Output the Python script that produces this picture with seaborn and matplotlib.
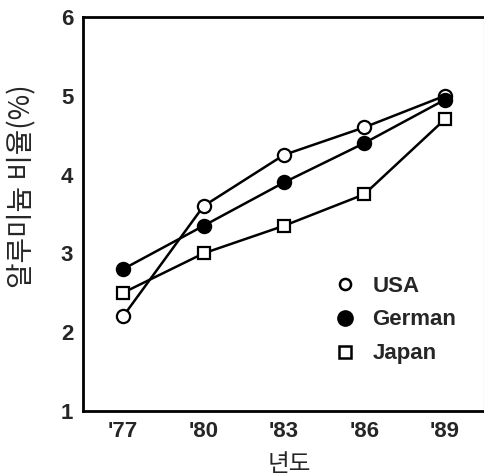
import matplotlib
matplotlib.use("Agg")
import matplotlib.pyplot as plt
from matplotlib.lines import Line2D
import seaborn as sns

years = [77, 80, 83, 86, 89]
year_labels = ["'77", "'80", "'83", "'86", "'89"]
usa = [2.2, 3.6, 4.25, 4.6, 5.0]
german = [2.8, 3.35, 3.9, 4.4, 4.95]
japan = [2.5, 3.0, 3.35, 3.75, 4.7]

sns.set_style("white")
plt.rcParams["font.family"] = ["Liberation Sans", "DejaVu Sans"]

fig = plt.figure(figsize=(4.85, 4.75), dpi=100)
ax = fig.add_axes([0.171, 0.135, 0.826, 0.829])

series = [
    ("USA", usa, "o", "white"),
    ("German", german, "o", "black"),
    ("Japan", japan, "s", "white"),
]
for name, vals, mk, face in series:
    sns.lineplot(x=years, y=vals, ax=ax, color="black", linewidth=1.8,
                 marker=mk, markersize=9.5 if mk == "o" else 9,
                 markerfacecolor=face, markeredgecolor="black",
                 markeredgewidth=1.6, legend=False)

ax.set_xlim(75.5, 90.45)
ax.set_ylim(1, 6)
ax.set_xticks(years)
ax.set_xticklabels(year_labels)
ax.set_yticks([1, 2, 3, 4, 5, 6])
ax.tick_params(direction="in", length=8, width=1.8, labelsize=16, pad=7,
               top=False, right=False)
for lab in ax.get_xticklabels() + ax.get_yticklabels():
    lab.set_fontweight("bold")

for side in ["left", "bottom", "top"]:
    ax.spines[side].set_linewidth(2)
    ax.spines[side].set_color("black")
ax.spines["right"].set_linewidth(0.8)
ax.spines["right"].set_color("#999999")

kfont = ["Noto Sans CJK KR", "DejaVu Sans"]
ax.set_ylabel("알루미늄 비율(%)", family=kfont, fontsize=20, fontweight="light")
ax.set_xlabel("년도", family=kfont, fontsize=17, fontweight="light", va="center")
ax.yaxis.set_label_coords(-0.1125, 0.57)
ax.xaxis.set_label_coords(0.516, -0.135)

handles = [
    Line2D([], [], linestyle="none", marker="o", markersize=8, markerfacecolor="white",
           markeredgecolor="black", markeredgewidth=1.8),
    Line2D([], [], linestyle="none", marker="o", markersize=11, markerfacecolor="black",
           markeredgecolor="black"),
    Line2D([], [], linestyle="none", marker="s", markersize=8, markerfacecolor="white",
           markeredgecolor="black", markeredgewidth=1.8),
]
leg = ax.legend(handles, ["USA", "German", "Japan"], loc="center left",
                bbox_to_anchor=(0.621, 0.231), frameon=False, borderpad=0,
                borderaxespad=0, handletextpad=0.63, labelspacing=0.58,
                handlelength=1.2, prop={"weight": "bold", "size": 16})

fig.savefig("out.png", dpi=100)
